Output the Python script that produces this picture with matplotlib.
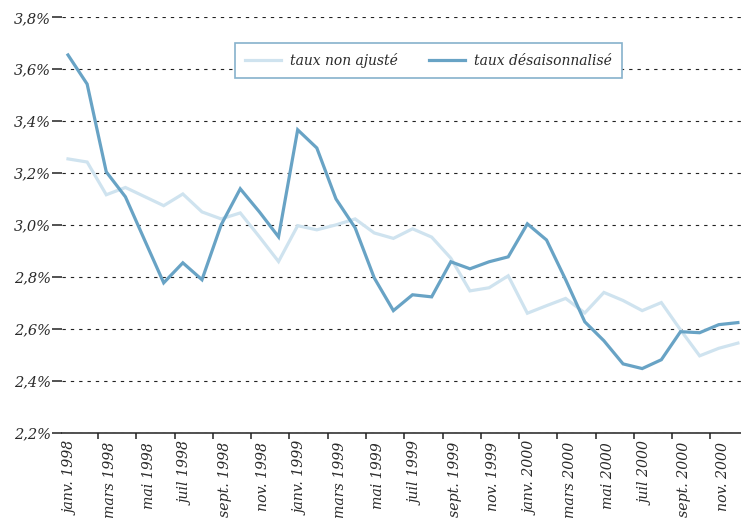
import matplotlib
matplotlib.use("Agg")
import matplotlib.pyplot as plt
import numpy as np

# ---- data ----
months = ["janv.", "févr.", "mars", "avr.", "mai", "juin", "juil", "août", "sept.", "oct.", "nov.", "déc."]
years = [1998, 1999, 2000]
periods = [f"{m} {y}" for y in years for m in months]

taux_non_ajuste = [3.255, 3.243, 3.117, 3.145, 3.110, 3.075, 3.120, 3.051, 3.024, 3.047, 2.955, 2.860,
                   2.998, 2.982, 3.001, 3.024, 2.970, 2.949, 2.986, 2.954, 2.873, 2.747, 2.759, 2.805,
                   2.661, 2.690, 2.718, 2.662, 2.741, 2.710, 2.671, 2.702, 2.597, 2.497, 2.526, 2.546]
taux_desaisonnalise = [3.655, 3.543, 3.205, 3.109, 2.943, 2.778, 2.855, 2.790, 3.001, 3.140, 3.051, 2.955,
                       3.367, 3.297, 3.101, 2.990, 2.797, 2.671, 2.732, 2.724, 2.859, 2.832, 2.859, 2.878,
                       3.005, 2.943, 2.790, 2.628, 2.555, 2.466, 2.448, 2.482, 2.590, 2.586, 2.617, 2.625]
tick_labels = periods[::2]
y_ticks = [2.2, 2.4, 2.6, 2.8, 3.0, 3.2, 3.4, 3.6, 3.8]

light = "#cfe3ef"
dark = "#68a3c5"
txt = "#2a2a2a"
font = ["DejaVu Serif"]

W, H = 741, 522
fig = plt.figure(figsize=(W / 100, H / 100), dpi=100)
left, right, top, bottom = 62, 741, 17.3, 433
ax = fig.add_axes([left / W, 1 - bottom / H, (right - left) / W, (bottom - top) / H])

x = np.arange(len(periods))
ax.plot(x, taux_non_ajuste, color=light, lw=2.3, label="taux non ajusté", solid_joinstyle="miter", zorder=3)
ax.plot(x, taux_desaisonnalise, color=dark, lw=2.3, label="taux désaisonnalisé", solid_joinstyle="miter", zorder=4)

px = 19.14
ax.set_xlim(-6 / px, (741 - 68) / px)
ax.set_ylim(2.2, 3.8)

# y axis
ax.set_yticks(y_ticks)
ax.set_yticklabels([f"{v:.1f}".replace(".", ",") + "%" for v in y_ticks],
                   fontfamily=font, fontstyle="italic", fontsize=10.5, color=txt)
ax.tick_params(axis="y", length=7.5, width=1.1, color="#222222", pad=0.3)
ax.yaxis.grid(True, color="#222222", lw=0.8, linestyle=(0, (3, 4.5)))
ax.set_axisbelow(True)

# x axis: tick marks at band boundaries, labels as minor ticks
major_pos = np.arange(1.567, 35, 2)
ax.set_xticks(major_pos)
ax.set_xticklabels([])
ax.tick_params(axis="x", which="major", length=4, width=1.1, color="#222222")
minor_pos = np.arange(len(tick_labels)) * 2 + 0.21
ax.set_xticks(minor_pos, minor=True)
ax.set_xticklabels(tick_labels, minor=True, rotation=90, fontfamily=font,
                   fontstyle="italic", fontsize=10.2, color=txt)
ax.tick_params(axis="x", which="minor", length=0, pad=6.5)

for s in ["left", "top", "right"]:
    ax.spines[s].set_visible(False)
ax.spines["bottom"].set_color("#222222")
ax.spines["bottom"].set_linewidth(1.1)
ax.spines["bottom"].set_zorder(5)

leg = ax.legend(loc="center", bbox_to_anchor=(428.5 / W, 1 - 60.5 / H), bbox_transform=fig.transFigure,
                ncol=2, frameon=True, fancybox=False, prop={"family": font, "style": "italic", "size": 10},
                handlelength=2.6, handletextpad=0.65, columnspacing=2.2, borderpad=0.75, borderaxespad=0)
fr = leg.get_frame()
fr.set_edgecolor("#86b1cc")
fr.set_linewidth(1.2)
fr.set_facecolor("white")
fr.set_alpha(1)
for t in leg.get_texts():
    t.set_color(txt)
leg.set_zorder(10)

fig.savefig("out.png", dpi=100)
